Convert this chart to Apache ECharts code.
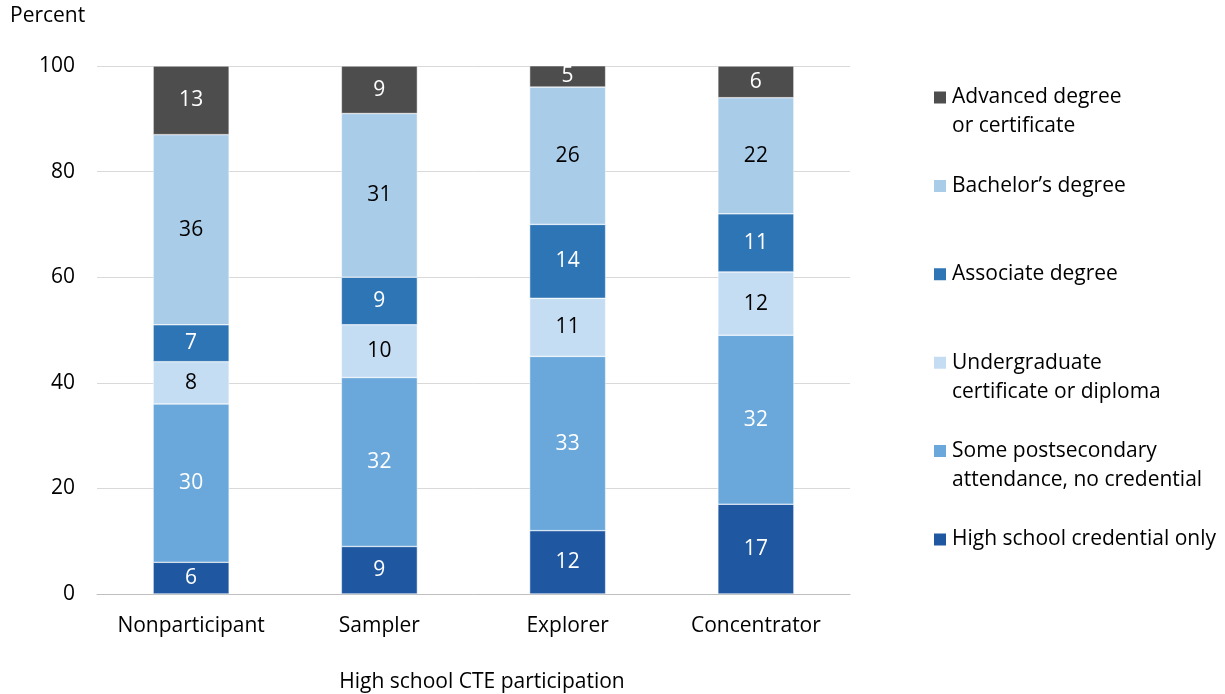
<!DOCTYPE html>
<html>
<head>
<meta charset="utf-8">
<script src="https://cdn.jsdelivr.net/npm/echarts@6/dist/echarts.min.js"></script>
<style>
  html, body { margin: 0; padding: 0; background: #fff; }
  #chart { width: 1225px; height: 694px; }
</style>
</head>
<body>
<div id="chart"></div>
<script>
// CTE participation groups (x axis)
const categories = ['Nonparticipant', 'Sampler', 'Explorer', 'Concentrator'];

// Highest education attained, percent of each group (stacked bottom to top)
const highSchoolOnly   = [6, 9, 12, 17];
const somePostsec      = [30, 32, 33, 32];
const undergradCert    = [8, 10, 11, 12];
const associate        = [7, 9, 14, 11];
const bachelors        = [36, 31, 26, 22];
const advanced         = [13, 9, 5, 6];

const yTicks = [0, 20, 40, 60, 80, 100];

const FONT = '"Open Sans", "Noto Sans", sans-serif';
const FS = 21;

const seriesDefs = [
  { name: 'High school credential only', data: highSchoolOnly, color: '#1f57a0', text: '#ffffff',
    legend: ' \nHigh school credential only\n ' },
  { name: 'Some postsecondary attendance, no credential', data: somePostsec, color: '#6aa8db', text: '#ffffff',
    legend: ' \nSome postsecondary\nattendance, no credential' },
  { name: 'Undergraduate certificate or diploma', data: undergradCert, color: '#c5ddf3', text: '#000000',
    legend: ' \nUndergraduate\ncertificate or diploma' },
  { name: 'Associate degree', data: associate, color: '#2e75b6', text: '#ffffff',
    legend: ' \nAssociate degree\n ' },
  { name: 'Bachelor’s degree', data: bachelors, color: '#a9cce9', text: '#000000',
    legend: ' \nBachelor’s degree\n ' },
  { name: 'Advanced degree or certificate', data: advanced, color: '#4d4d4d', text: '#ffffff',
    legend: ' \nAdvanced degree\nor certificate' }
];

const legendText = {};
seriesDefs.forEach(s => { legendText[s.name] = s.legend; });

const chart = echarts.init(document.getElementById('chart'), null, { renderer: 'canvas' });

chart.setOption({
  animation: false,
  backgroundColor: '#ffffff',
  textStyle: { fontFamily: FONT },
  title: {
    text: 'Percent',
    left: 10,
    top: 6,
    padding: 0,
    textStyle: { fontFamily: FONT, fontSize: FS, fontWeight: 'normal', color: '#000' }
  },
  grid: { left: 97, right: 375, top: 66, bottom: 100, containLabel: false, outerBoundsMode: 'none' },
  legend: {
    orient: 'vertical',
    left: 932,
    top: 54,
    padding: 0,
    itemWidth: 14,
    itemHeight: 14,
    itemGap: 1.4,
    icon: 'rect',
    selectedMode: false,
    data: seriesDefs.slice().reverse().map(s => s.name),
    formatter: name => legendText[name],
    textStyle: { fontFamily: FONT, fontSize: FS, color: '#000', lineHeight: 29 }
  },
  xAxis: {
    type: 'category',
    data: categories,
    name: 'High school CTE participation',
    nameLocation: 'middle',
    nameGap: 78,
    nameTextStyle: { fontFamily: FONT, fontSize: FS, color: '#000', padding: [0, 0, 0, 17] },
    axisLine: { lineStyle: { color: '#bfbfbf', width: 1 } },
    axisTick: { show: false },
    axisLabel: { fontFamily: FONT, fontSize: FS, color: '#000', margin: 22, interval: 0 }
  },
  yAxis: {
    type: 'value',
    min: yTicks[0],
    max: yTicks[yTicks.length - 1],
    interval: yTicks[1] - yTicks[0],
    axisLine: { show: false },
    axisTick: { show: false },
    splitLine: { lineStyle: { color: '#d9d9d9', width: 1 } },
    axisLabel: { fontFamily: FONT, fontSize: FS, color: '#000', margin: 22 }
  },
  series: seriesDefs.map(s => ({
    name: s.name,
    type: 'bar',
    stack: 'total',
    barWidth: 76,
    data: s.data,
    itemStyle: { color: s.color, borderColor: '#ffffff', borderWidth: 0.5 },
    label: {
      show: true,
      position: 'inside',
      fontFamily: FONT,
      fontSize: FS,
      color: s.text
    }
  }))
});
</script>
</body>
</html>
